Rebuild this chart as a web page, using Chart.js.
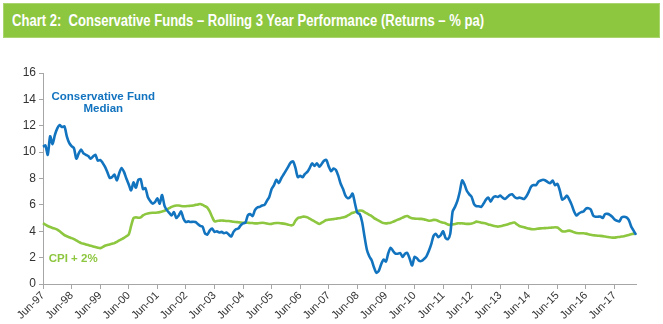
<!DOCTYPE html>
<html>
<head>
<meta charset="utf-8">
<script src="https://cdn.jsdelivr.net/npm/chart.js@4"></script>
<style>
  html, body { margin: 0; padding: 0; background: #ffffff; }
  #wrap { position: relative; width: 663px; height: 324px; overflow: hidden; }
  #titlebar {
    position: absolute; left: 3px; top: 3px; width: 657px; height: 35px;
    background: #8DC63F; box-sizing: border-box; border: 1px solid #A9D46E;
  }
  #titletext {
    position: absolute; left: 8px; top: 8px; white-space: nowrap;
    font-family: "Liberation Sans Narrow", "Arial Narrow", "Liberation Sans", sans-serif;
    font-size: 16px; font-weight: bold; color: #ffffff; transform-origin: left center;
  }
  #c { position: absolute; left: 0; top: 0; }
</style>
</head>
<body>
<div id="wrap">
  <div id="titlebar"><div id="titletext">Chart 2:&nbsp; Conservative Funds – Rolling 3 Year Performance (Returns – % pa)</div></div>
  <canvas id="c" width="663" height="324"></canvas>
</div>
<script>
// ---- Data ----
const monthNames = ["Jan","Feb","Mar","Apr","May","Jun","Jul","Aug","Sep","Oct","Nov","Dec"];
const startYear = 1997, startMonthIdx = 5, nMonths = 250;
const categories = [];
for (let i = 0; i < nMonths; i++) {
  const mi = (startMonthIdx + i) % 12;
  const y = startYear + Math.floor((startMonthIdx + i) / 12);
  categories.push(monthNames[mi] + "-" + String(y % 100).padStart(2, "0"));
}
const tickLabels = ["Jun-97","Jun-98","Jun-99","Jun-00","Jun-01","Jun-02","Jun-03","Jun-04","Jun-05","Jun-06","Jun-07","Jun-08","Jun-09","Jun-10","Jun-11","Jun-12","Jun-13","Jun-14","Jun-15","Jun-16","Jun-17"];

const conservativeMedian = [
 10.4,10.5,9.8,11.2,10.6,11.3,11.8,12.05,11.9,11.95,11.2,10.7,
 10.45,10.3,9.5,9.9,10.2,9.9,9.8,9.7,9.5,9.67,9.8,9.35,
 9.4,9.2,8.9,8.5,8.05,8.1,8.3,7.85,8.4,8.8,8.5,8.0,
 7.55,7.1,7.7,7.3,7.9,7.95,7.2,7.27,6.6,6.3,6.1,6.2,
 6.5,6.1,6.75,5.95,5.6,5.4,5.2,5.45,5.0,5.2,5.5,4.95,
 4.7,4.75,4.7,4.72,4.7,4.55,4.4,4.35,3.85,3.75,4.05,4.2,
 3.95,4.0,3.9,3.95,3.85,3.9,3.75,3.6,3.95,4.15,4.2,4.45,
 4.6,4.65,5.2,5.3,5.15,5.6,5.8,5.85,5.95,6.0,6.3,6.6,
 7.2,7.5,7.9,7.65,8.0,8.3,8.6,8.9,9.2,9.3,8.8,8.1,
 8.2,8.1,8.35,8.5,8.8,9.15,8.95,9.15,8.9,9.1,9.35,9.4,
 8.9,8.55,8.75,8.65,8.2,7.6,7.2,6.7,6.5,6.6,6.85,6.1,
 5.4,5.3,4.7,3.6,2.6,2.1,1.8,1.25,0.85,1.0,1.5,1.85,
 1.7,2.35,2.75,2.5,2.3,2.3,2.35,2.05,2.3,2.35,1.9,1.4,
 2.05,1.95,1.75,1.75,1.9,2.1,2.5,3.0,3.65,3.8,3.55,3.7,
 4.0,3.5,3.4,3.8,5.5,5.85,6.3,7.0,7.85,7.55,7.05,6.8,
 6.6,6.05,5.9,5.9,5.85,6.1,6.4,6.55,6.25,6.55,6.65,6.6,
 6.7,6.55,6.45,6.6,6.75,6.8,6.6,6.5,6.55,6.5,6.45,6.65,
 7.0,7.4,7.5,7.5,7.75,7.85,7.9,7.85,7.72,7.65,7.85,7.5,
 7.6,7.1,6.4,6.5,6.7,6.4,6.0,5.5,5.2,5.35,5.45,5.5,
 5.72,5.75,5.65,5.2,5.1,5.1,5.12,5.0,5.3,5.32,5.25,5.1,
 4.9,4.8,4.75,5.05,5.1,5.05,4.85,4.35,4.05,3.72
];

const cpiPlus2 = [
 4.62,4.5,4.4,4.32,4.25,4.2,4.12,4.0,3.85,3.7,3.62,3.55,
 3.48,3.4,3.3,3.2,3.1,3.05,3.0,2.95,2.9,2.85,2.8,2.75,
 2.72,2.8,2.9,2.95,3.0,3.05,3.1,3.2,3.3,3.4,3.5,3.62,
 3.75,4.4,5.0,5.05,5.02,5.05,5.2,5.3,5.35,5.38,5.4,5.4,
 5.42,5.45,5.5,5.55,5.65,5.75,5.85,5.92,5.95,5.95,5.92,5.9,
 5.9,5.92,5.93,5.95,6.0,6.02,6.07,6.0,5.9,5.8,5.5,5.1,
 4.75,4.78,4.8,4.82,4.8,4.78,4.78,4.75,4.72,4.7,4.68,4.66,
 4.65,4.65,4.64,4.63,4.62,4.6,4.6,4.62,4.65,4.63,4.58,4.55,
 4.56,4.6,4.62,4.62,4.6,4.58,4.55,4.5,4.45,4.48,4.8,5.0,
 5.05,5.1,5.1,5.05,4.95,4.85,4.75,4.65,4.55,4.65,4.75,4.85,
 4.88,4.9,4.92,4.95,4.98,5.0,5.05,5.1,5.2,5.3,5.4,5.45,
 5.52,5.57,5.55,5.45,5.35,5.25,5.15,5.0,4.9,4.8,4.7,4.62,
 4.6,4.62,4.65,4.72,4.8,4.88,4.95,5.03,5.12,5.15,5.05,4.98,
 4.96,4.95,4.94,4.94,4.9,4.85,4.8,4.82,4.86,4.85,4.78,4.7,
 4.65,4.6,4.52,4.48,4.52,4.55,4.6,4.6,4.6,4.58,4.56,4.56,
 4.58,4.65,4.73,4.7,4.65,4.62,4.58,4.52,4.47,4.42,4.38,4.35,
 4.38,4.42,4.48,4.52,4.58,4.63,4.66,4.52,4.4,4.35,4.3,4.25,
 4.2,4.16,4.15,4.17,4.2,4.22,4.23,4.24,4.25,4.27,4.28,4.3,
 4.28,4.15,4.0,3.98,4.02,4.05,4.0,3.92,3.86,3.85,3.85,3.85,
 3.82,3.78,3.73,3.7,3.68,3.66,3.65,3.63,3.6,3.57,3.54,3.52,
 3.52,3.55,3.57,3.6,3.62,3.67,3.72,3.77,3.82,3.85
];

const yTickValues = [0,2,4,6,8,10,12,14,16];

// ---- Title width fit ----
(function(){
  const t = document.getElementById('titletext');
  const target = 472;
  const w = t.getBoundingClientRect().width;
  if (w > 0) t.style.transform = 'scaleX(' + (target / w) + ')';
})();

const BLUE = '#1273BF';
const GREEN = '#8DC63F';
const AXIS = '#A6A6A6';

const labelsPlugin = {
  id: 'seriesLabels',
  afterDatasetsDraw(chart) {
    const {ctx, scales: {x, y}} = chart;
    ctx.save();
    ctx.font = 'bold 11.5px "Liberation Sans", Arial, sans-serif';
    ctx.fillStyle = BLUE;
    ctx.textAlign = 'center';
    ctx.textBaseline = 'middle';
    const cx = x.getPixelForValue(25.3);
    ctx.fillText('Conservative Fund', cx, y.getPixelForValue(14.22));
    ctx.fillText('Median', cx, y.getPixelForValue(13.28));
    ctx.fillStyle = GREEN;
    ctx.textAlign = 'left';
    ctx.font = 'bold 11.5px "Liberation Sans", Arial, sans-serif';
    ctx.fillText('CPI + 2%', x.getPixelForValue(2.4), y.getPixelForValue(1.9));
    ctx.restore();
  }
};

new Chart(document.getElementById('c'), {
  type: 'line',
  data: {
    labels: categories,
    datasets: [
      { label: 'Conservative Fund Median', data: conservativeMedian, borderColor: BLUE,
        borderWidth: 2.6, pointRadius: 0, tension: 0.25, fill: false },
      { label: 'CPI + 2%', data: cpiPlus2, borderColor: GREEN,
        borderWidth: 2.6, pointRadius: 0, tension: 0.25, fill: false }
    ]
  },
  options: {
    responsive: false,
    animation: false,
    events: [],
    layout: { padding: { top: 73, right: 27, left: 0, bottom: 0 } },
    plugins: { legend: { display: false }, tooltip: { enabled: false } },
    scales: {
      x: {
        type: 'category',
        offset: false,
        afterBuildTicks(scale) {
          scale.ticks = scale.ticks.filter(t => tickLabels.includes(categories[t.value]));
        },
        afterFit(scale) { scale.height = 40; },
        grid: { display: true, drawOnChartArea: false, drawTicks: true, tickLength: 5, color: AXIS, tickColor: AXIS },
        border: { display: true, color: AXIS, width: 1 },
        ticks: {
          autoSkip: false, maxRotation: 45, minRotation: 45, padding: 0,
          color: '#333333',
          font: { family: '"Liberation Sans", Arial, sans-serif', size: 11 },
          callback(value) { return categories[value]; }
        }
      },
      y: {
        min: 0, max: 16,
        afterBuildTicks(scale) { scale.ticks = yTickValues.map(v => ({ value: v })); },
        afterFit(scale) { scale.width = 43; },
        grid: { display: true, drawOnChartArea: false, drawTicks: true, tickLength: 4, color: AXIS, tickColor: AXIS },
        border: { display: true, color: AXIS, width: 1 },
        ticks: {
          padding: 3, color: '#333333',
          font: { family: '"Liberation Sans", Arial, sans-serif', size: 12 }
        }
      }
    }
  },
  plugins: [labelsPlugin]
});
</script>
</body>
</html>
